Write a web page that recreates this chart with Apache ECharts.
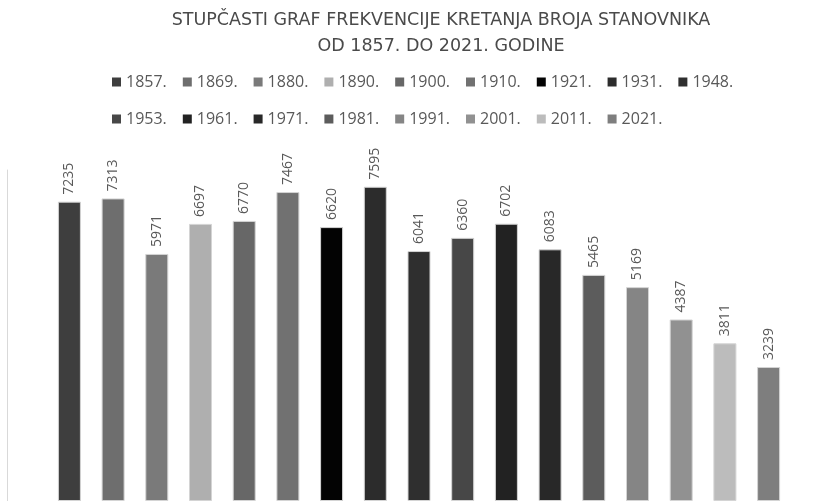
<!DOCTYPE html>
<html>
<head>
<meta charset="utf-8">
<script src="https://cdn.jsdelivr.net/npm/echarts@6/dist/echarts.min.js"></script>
<style>
  html, body { margin: 0; padding: 0; background: #fff; }
  #chart { width: 823px; height: 501px; }
</style>
</head>
<body>
<div id="chart"></div>
<script>
const years = ['1857.', '1869.', '1880.', '1890.', '1900.', '1910.', '1921.', '1931.', '1948.',
    '1953.', '1961.', '1971.', '1981.', '1991.', '2001.', '2011.', '2021.'];
const population = [7235, 7313, 5971, 6697, 6770, 7467, 6620, 7595, 6041,
    6360, 6702, 6083, 5465, 5169, 4387, 3811, 3239];
const barColors = ['#3e3e3e', '#6e6e6e', '#7a7a7a', '#afafaf', '#676767', '#717171', '#030303', '#2c2c2c', '#2f2f2f',
    '#474747', '#222222', '#282828', '#5c5c5c', '#858585', '#919191', '#bcbcbc', '#7e7e7e'];
const categories = ['Broj stanovnika'];

const chart = echarts.init(document.getElementById('chart'));

// one series per census year, all in the same category (like the spreadsheet chart)
const series = years.map((y, i) => ({
    name: y,
    type: 'bar',
    data: [population[i]],
    barWidth: 23,
    barGap: '90%',
    itemStyle: {
        color: barColors[i],
        borderColor: '#d4d4d4',
        borderWidth: 1,
    },
    label: {
        show: true,
        position: 'top',
        rotate: 90,
        align: 'left',
        verticalAlign: 'middle',
        distance: 7,
        fontFamily: 'Open Sans',
        fontSize: 14,
        color: '#595959',
    },
}));

const legendBase = {
    left: 107,
    orient: 'horizontal',
    icon: 'rect',
    itemWidth: 9,
    itemHeight: 9,
    itemGap: 16,
    itemStyle: { borderWidth: 0 },
    textStyle: { fontFamily: 'Open Sans', fontSize: 16, color: '#595959' },
};

const option = {
    backgroundColor: '#fff',
    animation: false,
    title: {
        text: 'STUPČASTI GRAF FREKVENCIJE KRETANJA BROJA STANOVNIKA\nOD 1857. DO 2021. GODINE',
        left: 436,
        top: 2,
        textAlign: 'center',
        textStyle: {
            fontFamily: 'DejaVu Sans',
            fontSize: 17.5,
            fontWeight: 'normal',
            color: '#4a4a4a',
            lineHeight: 26,
        },
    },
    legend: [
        Object.assign({}, legendBase, { top: 69, data: years.slice(0, 9) }),
        Object.assign({}, legendBase, { top: 106, data: years.slice(9) }),
    ],
    grid: { left: 15, top: 170, width: 826, height: 332.5 },
    xAxis: {
        type: 'category',
        data: categories,
        axisLine: { show: false },
        axisTick: { show: false },
        axisLabel: { show: false },
    },
    yAxis: {
        type: 'value',
        min: 0,
        max: 8000,
        offset: 7.5,
        axisLine: { show: true, lineStyle: { color: '#d9d9d9', width: 1 } },
        axisTick: { show: false },
        axisLabel: { show: false },
        splitLine: { show: false },
    },
    series: series,
};

chart.setOption(option);
</script>
</body>
</html>
